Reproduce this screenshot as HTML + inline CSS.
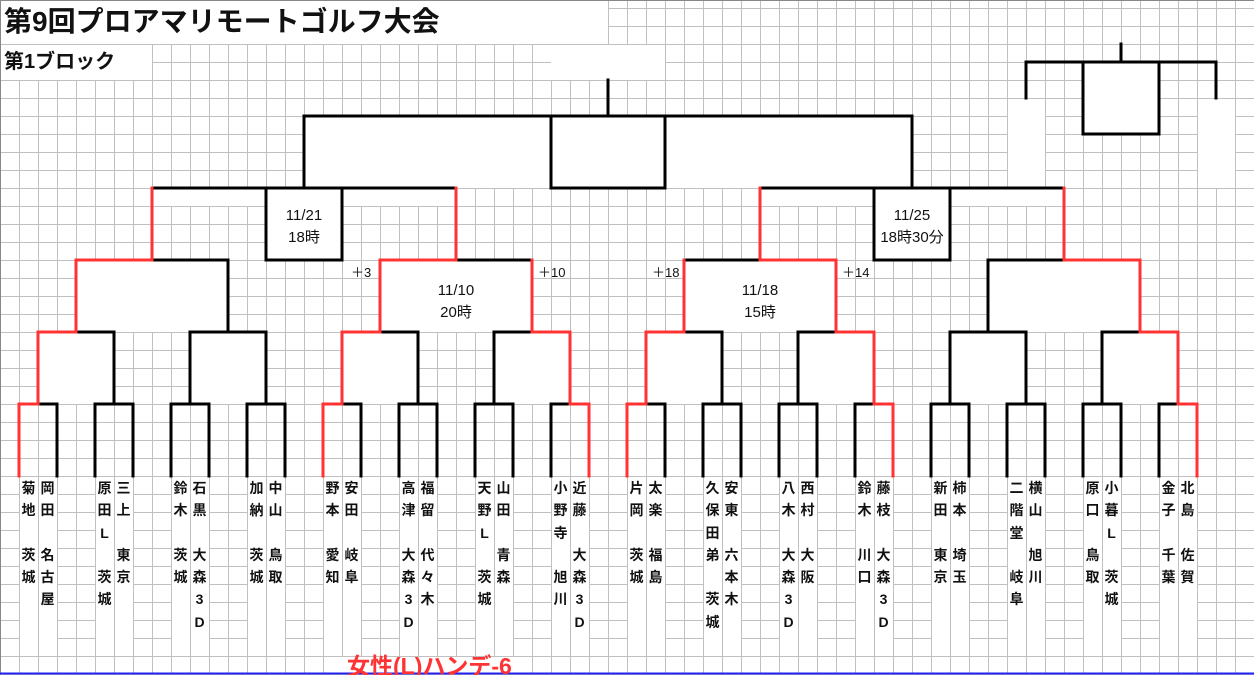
<!DOCTYPE html>
<html><head><meta charset="utf-8">
<style>
html,body{margin:0;padding:0;background:#fff;}
#c{position:relative;width:1254px;height:675px;overflow:hidden;font-family:"Liberation Sans","Noto Sans CJK JP",sans-serif;}
svg{position:absolute;left:0;top:0;}
.n{position:absolute;top:477px;width:19px;text-align:center;font-size:14px;line-height:22.3px;font-weight:bold;color:#111;font-family:"Liberation Sans","Noto Sans CJK JP",sans-serif;}
.t{position:absolute;font-family:"Liberation Sans","Noto Sans CJK JP",sans-serif;color:#111;white-space:nowrap;}
.d{position:absolute;text-align:center;font-size:15px;line-height:22px;color:#111;width:150px;}
.p{position:absolute;font-size:13px;color:#111;}
</style></head><body><div id="c">
<svg width="1254" height="675" xmlns="http://www.w3.org/2000/svg">
<defs>
<pattern id="g" x="0" y="44" width="19" height="18" patternUnits="userSpaceOnUse">
<path d="M0.5 0V18M0 0.5H19" stroke="#c0c0c0" stroke-width="1" fill="none"/>
</pattern>
</defs>
<rect width="1254" height="675" fill="url(#g)"/>
<g fill="#fff">
<rect x="1" y="0" width="607" height="44"/>
<rect x="1" y="45" width="151" height="35"/>
<rect x="551" y="45" width="114" height="35"/>
<rect x="305" y="117" width="606" height="71"/>
<rect x="153" y="189" width="302" height="17"/>
<rect x="761" y="189" width="302" height="17"/>
<rect x="266" y="188" width="76" height="72"/>
<rect x="874" y="188" width="76" height="72"/>
<rect x="77" y="261" width="150" height="71"/>
<rect x="381" y="261" width="150" height="71"/>
<rect x="685" y="261" width="150" height="71"/>
<rect x="989" y="261" width="150" height="71"/>
<rect x="39" y="333" width="74" height="71"/>
<rect x="191" y="333" width="74" height="71"/>
<rect x="343" y="333" width="74" height="71"/>
<rect x="495" y="333" width="74" height="71"/>
<rect x="647" y="333" width="74" height="71"/>
<rect x="799" y="333" width="74" height="71"/>
<rect x="951" y="333" width="74" height="71"/>
<rect x="1103" y="333" width="74" height="71"/>
<rect x="1084" y="63" width="74" height="71"/>
<rect x="1008" y="99" width="37" height="89"/>
<rect x="1198" y="99" width="37" height="89"/>
<rect x="324" y="657" width="208" height="16"/>
</g>
<g fill="#fff">
<rect x="20" y="477" width="18" height="179"/><rect x="39" y="477" width="18" height="179"/>
<rect x="96" y="477" width="18" height="179"/><rect x="115" y="477" width="18" height="179"/>
<rect x="172" y="477" width="18" height="179"/><rect x="191" y="477" width="18" height="179"/>
<rect x="248" y="477" width="18" height="179"/><rect x="267" y="477" width="18" height="179"/>
<rect x="324" y="477" width="18" height="179"/><rect x="343" y="477" width="18" height="179"/>
<rect x="400" y="477" width="18" height="179"/><rect x="419" y="477" width="18" height="179"/>
<rect x="476" y="477" width="18" height="179"/><rect x="495" y="477" width="18" height="179"/>
<rect x="552" y="477" width="18" height="179"/><rect x="571" y="477" width="18" height="179"/>
<rect x="628" y="477" width="18" height="179"/><rect x="647" y="477" width="18" height="179"/>
<rect x="704" y="477" width="18" height="179"/><rect x="723" y="477" width="18" height="179"/>
<rect x="780" y="477" width="18" height="179"/><rect x="799" y="477" width="18" height="179"/>
<rect x="856" y="477" width="18" height="179"/><rect x="875" y="477" width="18" height="179"/>
<rect x="932" y="477" width="18" height="179"/><rect x="951" y="477" width="18" height="179"/>
<rect x="1008" y="477" width="18" height="179"/><rect x="1027" y="477" width="18" height="179"/>
<rect x="1084" y="477" width="18" height="179"/><rect x="1103" y="477" width="18" height="179"/>
<rect x="1160" y="477" width="18" height="179"/><rect x="1179" y="477" width="18" height="179"/>
</g>
<path d="M0.5 0V675M0 0.5H1254" stroke="#888" stroke-width="1"/>
<path d="M0 673.5H1254" stroke="#2222ee" stroke-width="2"/>
<g fill="none" stroke="#000" stroke-width="3" stroke-linecap="square">
<path d="M608 80V116M304 116H912M304 116V188M912 116V188M551 116V188H665V116"/>
<path d="M152 188H456M266 188V260H342V188M760 188H1064M874 188V260H950V188"/>
<path d="M152 260H228V332M456 260H532M684 260H760M988 260H1064M988 260V332"/>
<path d="M76 332H114V404M190 332H266M190 332V404M266 332V404M228 260V332M380 332H418V404M494 332H532M494 332V404M684 332H722V404M798 332H836M798 332V404M950 332H1026M950 332V404M1026 332V404M1102 332H1140M1102 332V404"/>
<path d="M38 404H57V476M95 404H133M95 404V476M133 404V476M171 404H209M171 404V476M209 404V476M247 404H285M247 404V476M285 404V476M342 404H361V476M399 404H437M399 404V476M437 404V476M475 404H513M475 404V476M513 404V476M551 404H570M551 404V476M646 404H665V476M703 404H741M703 404V476M741 404V476M779 404H817M779 404V476M817 404V476M855 404H874M855 404V476M931 404H969M931 404V476M969 404V476M1007 404H1045M1007 404V476M1045 404V476M1083 404H1121M1083 404V476M1121 404V476M1159 404H1178M1159 404V476"/>
<path d="M1121 44V62M1026 62H1216M1026 62V98M1216 62V98M1083 62V134H1159V62"/>
</g>
<g fill="none" stroke="#ff3333" stroke-width="3" stroke-linecap="square">
<path d="M152 188V260M456 188V260M760 188V260M1064 188V260"/>
<path d="M76 260H152M76 260V332M380 260H456M380 260V332M532 260V332M760 260H836M684 260V332M836 260V332M1064 260H1140M1140 260V332"/>
<path d="M38 332H76M38 332V404M342 332H380M342 332V404M532 332H570M570 332V404M646 332H684M646 332V404M836 332H874M874 332V404M1140 332H1178M1178 332V404"/>
<path d="M19 404H38M19 404V476M323 404H342M323 404V476M570 404H589M589 404V476M627 404H646M627 404V476M874 404H893M893 404V476M1178 404H1197M1197 404V476"/>
</g>
</svg>
<div class="t" style="left:4px;top:4px;font-size:28px;font-weight:bold;line-height:36px;">第9回プロアマリモートゴルフ大会</div>
<div class="t" style="left:4px;top:49px;font-size:20px;font-weight:bold;line-height:26px;">第1ブロック</div>
<div class="d" style="left:229px;top:205px;">11/21<br>18時</div>
<div class="d" style="left:837px;top:205px;">11/25<br>18時30分</div>
<div class="d" style="left:381px;top:280px;">11/10<br>20時</div>
<div class="d" style="left:685px;top:280px;">11/18<br>15時</div>
<div class="p" style="left:351px;top:262px;">＋3</div>
<div class="p" style="left:538px;top:262px;">＋10</div>
<div class="p" style="left:652px;top:262px;">＋18</div>
<div class="p" style="left:842px;top:262px;">＋14</div>
<div class="t" style="left:347px;top:652px;font-size:23px;font-weight:bold;color:#ff3333;line-height:28px;">女性(L)ハンデ-6</div>

<div class="n" style="left:19px">菊<br>地<br>&nbsp;<br>茨<br>城</div>
<div class="n" style="left:38px">岡<br>田<br>&nbsp;<br>名<br>古<br>屋</div>
<div class="n" style="left:95px">原<br>田<br>L<br>&nbsp;<br>茨<br>城</div>
<div class="n" style="left:114px">三<br>上<br>&nbsp;<br>東<br>京</div>
<div class="n" style="left:171px">鈴<br>木<br>&nbsp;<br>茨<br>城</div>
<div class="n" style="left:190px">石<br>黒<br>&nbsp;<br>大<br>森<br>3<br>D</div>
<div class="n" style="left:247px">加<br>納<br>&nbsp;<br>茨<br>城</div>
<div class="n" style="left:266px">中<br>山<br>&nbsp;<br>鳥<br>取</div>
<div class="n" style="left:323px">野<br>本<br>&nbsp;<br>愛<br>知</div>
<div class="n" style="left:342px">安<br>田<br>&nbsp;<br>岐<br>阜</div>
<div class="n" style="left:399px">高<br>津<br>&nbsp;<br>大<br>森<br>3<br>D</div>
<div class="n" style="left:418px">福<br>留<br>&nbsp;<br>代<br>々<br>木</div>
<div class="n" style="left:475px">天<br>野<br>L<br>&nbsp;<br>茨<br>城</div>
<div class="n" style="left:494px">山<br>田<br>&nbsp;<br>青<br>森</div>
<div class="n" style="left:551px">小<br>野<br>寺<br>&nbsp;<br>旭<br>川</div>
<div class="n" style="left:570px">近<br>藤<br>&nbsp;<br>大<br>森<br>3<br>D</div>
<div class="n" style="left:627px">片<br>岡<br>&nbsp;<br>茨<br>城</div>
<div class="n" style="left:646px">太<br>楽<br>&nbsp;<br>福<br>島</div>
<div class="n" style="left:703px">久<br>保<br>田<br>弟<br>&nbsp;<br>茨<br>城</div>
<div class="n" style="left:722px">安<br>東<br>&nbsp;<br>六<br>本<br>木</div>
<div class="n" style="left:779px">八<br>木<br>&nbsp;<br>大<br>森<br>3<br>D</div>
<div class="n" style="left:798px">西<br>村<br>&nbsp;<br>大<br>阪</div>
<div class="n" style="left:855px">鈴<br>木<br>&nbsp;<br>川<br>口</div>
<div class="n" style="left:874px">藤<br>枝<br>&nbsp;<br>大<br>森<br>3<br>D</div>
<div class="n" style="left:931px">新<br>田<br>&nbsp;<br>東<br>京</div>
<div class="n" style="left:950px">柿<br>本<br>&nbsp;<br>埼<br>玉</div>
<div class="n" style="left:1007px">二<br>階<br>堂<br>&nbsp;<br>岐<br>阜</div>
<div class="n" style="left:1026px">横<br>山<br>&nbsp;<br>旭<br>川</div>
<div class="n" style="left:1083px">原<br>口<br>&nbsp;<br>鳥<br>取</div>
<div class="n" style="left:1102px">小<br>暮<br>L<br>&nbsp;<br>茨<br>城</div>
<div class="n" style="left:1159px">金<br>子<br>&nbsp;<br>千<br>葉</div>
<div class="n" style="left:1178px">北<br>島<br>&nbsp;<br>佐<br>賀</div>
</div></body></html>
